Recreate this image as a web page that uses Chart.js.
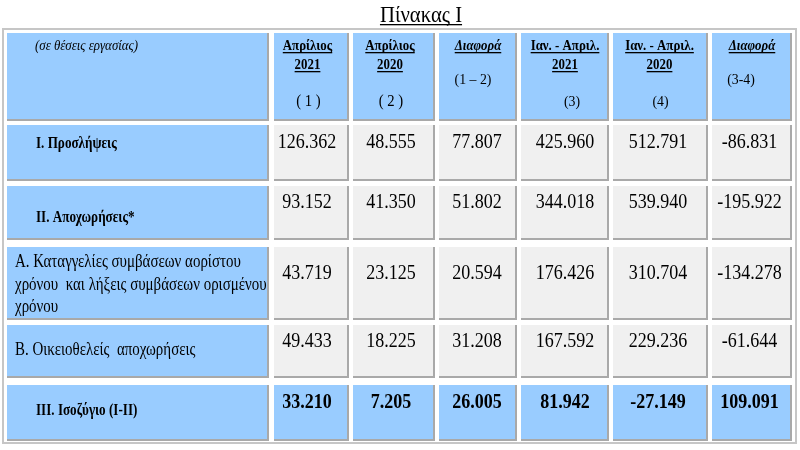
<!DOCTYPE html>
<html>
<head>
<meta charset="utf-8">
<script src="https://cdn.jsdelivr.net/npm/chart.js@4/dist/chart.umd.min.js"></script>
<style>
  html, body { margin: 0; padding: 0; background: #ffffff; }
  #wrap { width: 800px; height: 450px; position: relative; }
</style>
</head>
<body>
<div id="wrap"><canvas id="c"></canvas></div>
<script>
// ---------------- DATA ----------------
const tableTitle = 'Πίνακας Ι';
const unitLabel = '(σε θέσεις εργασίας)';
const columnHeads = [
  ['Απρίλιος', '2021'],
  ['Απρίλιος', '2020'],
  ['Διαφορά'],
  ['Ιαν. - Απριλ.', '2021'],
  ['Ιαν. - Απριλ.', '2020'],
  ['Διαφορά']
];
const columnNotes = ['( 1 )', '( 2 )', '(1 – 2)', '(3)', '(4)', '(3-4)'];
const rowLabels = [
  'Ι. Προσλήψεις',
  'ΙΙ. Αποχωρήσεις*',
  'Α. Καταγγελίες συμβάσεων αορίστου\nχρόνου  και λήξεις συμβάσεων ορισμένου\nχρόνου',
  'Β. Οικειοθελείς  αποχωρήσεις',
  'ΙΙΙ. Ισοζύγιο (Ι-ΙΙ)'
];
const april2021   = [126362, 93152, 43719, 49433, 33210];
const april2020   = [48555, 41350, 23125, 18225, 7205];
const diff1_2     = [77807, 51802, 20594, 31208, 26005];
const janApr2021  = [425960, 344018, 176426, 167592, 81942];
const janApr2020  = [512791, 539940, 310704, 229236, -27149];
const diff3_4     = [-86831, -195922, -134278, -61644, 109091];
const valueColumns = [april2021, april2020, diff1_2, janApr2021, janApr2020, diff3_4];

// ---------------- LAYOUT / STYLE ----------------
const colEdges = [[7, 269], [274, 349], [353, 435], [439, 517], [521, 609], [613, 708], [712, 792]];
const rowEdges = [[33, 121], [125, 181], [186, 240], [247, 320], [325, 378], [385, 441]];
const frameEdges = { x: [2, 797], y: [28, 444] };
const BLUE = '#99ccff';
const GRAY = '#f0f0f0';
const SHADOW = '#a9a9a9';
const SERIF = '"Liberation Serif", "Times New Roman", serif';

function fmt(v) {
  const s = String(Math.abs(v)).replace(/\B(?=(\d{3})+(?!\d))/g, '.');
  return (v < 0 ? '-' : '') + s;
}

const cellDatasets = colEdges.map((ce, c) => ({
  data: rowEdges.map(re => ({ x: (ce[0] + ce[1]) / 2, y: [re[0], re[1]] })),
  barThickness: ce[1] - ce[0],
  backgroundColor: rowEdges.map((_, r) => (r === 0 || c === 0 || r === rowEdges.length - 1) ? BLUE : GRAY),
  borderColor: SHADOW,
  borderWidth: { top: 0, left: 0, right: 2, bottom: 2 },
  borderSkipped: false,
  inflateAmount: 0,
  stack: 'table',
  order: 0
}));

const frameDataset = {
  data: [{ x: (frameEdges.x[0] + frameEdges.x[1]) / 2, y: frameEdges.y }],
  barThickness: frameEdges.x[1] - frameEdges.x[0],
  backgroundColor: '#ffffff',
  borderColor: '#c6c6c6',
  borderWidth: { top: 2, left: 2, right: 2, bottom: 2 },
  borderSkipped: false,
  inflateAmount: 0,
  stack: 'table',
  order: 5
};

function drawText(ctx, s, x, y, font, align, sx, underline) {
  ctx.save();
  ctx.font = font;
  ctx.fillStyle = '#000000';
  ctx.textBaseline = 'alphabetic';
  ctx.textAlign = align;
  ctx.translate(x, y);
  ctx.scale(sx, 1);
  ctx.fillText(s, 0, 0);
  if (underline) {
    const w = ctx.measureText(s).width;
    let x0 = 0;
    if (align === 'center') x0 = -w / 2;
    else if (align === 'right') x0 = -w;
    ctx.fillRect(x0, 2, w, 1.3);
  }
  ctx.restore();
}

function cellBox(chart, c, r) {
  const el = chart.getDatasetMeta(c).data[r];
  const p = el.getProps(['x', 'y', 'base', 'width'], true);
  return {
    left: p.x - p.width / 2, right: p.x + p.width / 2,
    top: Math.min(p.y, p.base), bottom: Math.max(p.y, p.base),
    cx: p.x, cy: (p.y + p.base) / 2
  };
}

const textPlugin = {
  id: 'tableText',
  afterDatasetsDraw(chart) {
    const ctx = chart.ctx;
    // title
    drawText(ctx, tableTitle, 421, 22, '23px ' + SERIF, 'center', 0.9, true);

    // header: unit label
    const h0 = cellBox(chart, 0, 0);
    drawText(ctx, unitLabel, h0.left + 28, h0.top + 17, 'italic 14px ' + SERIF, 'left', 0.92, false);

    // header columns
    const headStyle = ['bold 14px ', 'bold 14px ', 'bold italic 14px ', 'bold 14px ', 'bold 14px ', 'bold italic 14px '];
    const noteDy = [73, 73, 51, 73, 73, 51];
    const noteDx = [-3, -3, -5, 7, 0, -11];
    const headDx = [-4, -4, 0, 0, -1, 0];
    const noteSize = [16, 16, 15, 15, 15, 15];
    for (let c = 0; c < columnHeads.length; c++) {
      const b = cellBox(chart, c + 1, 0);
      columnHeads[c].forEach((line, i) => {
        drawText(ctx, line, b.cx + headDx[c], b.top + 17 + i * 19, headStyle[c] + SERIF, 'center', 0.92, true);
      });
      drawText(ctx, columnNotes[c], b.cx + noteDx[c], b.top + noteDy[c], noteSize[c] + 'px ' + SERIF, 'center', 0.92, false);
    }

    // row labels
    const labelBold = [true, true, false, false, true];
    const labelX = [36, 36, 15, 15, 36];
    const labelDy = [-5, 9, 0, 3.5, 2];
    for (let r = 0; r < rowLabels.length; r++) {
      const b = cellBox(chart, 0, r + 1);
      const lines = rowLabels[r].split('\n');
      if (lines.length > 1) {
        lines.forEach((line, i) => {
          drawText(ctx, line, labelX[r], b.top + 20 + i * 22.5, '18px ' + SERIF, 'left', 0.83, false);
        });
      } else {
        const font = labelBold[r] ? 'bold 16px ' : '18px ';
        const sx = labelBold[r] ? 0.82 : 0.83;
        drawText(ctx, lines[0], labelX[r], b.cy + labelDy[r], font + SERIF, 'left', sx, false);
      }
    }

    // values
    const valDx = [-4.5, -3, -1, 0, -2.5, -2.5];
    for (let c = 0; c < valueColumns.length; c++) {
      for (let r = 0; r < rowLabels.length; r++) {
        const b = cellBox(chart, c + 1, r + 1);
        const bold = r === rowLabels.length - 1;
        const dy = (r === 2) ? -4.5 : -5;
        drawText(ctx, fmt(valueColumns[c][r]), b.cx + valDx[c], b.cy + dy,
          (bold ? 'bold 20px ' : '20px ') + SERIF, 'center', 0.9, false);
      }
    }
  }
};

new Chart(document.getElementById('c'), {
  type: 'bar',
  data: { datasets: [...cellDatasets, frameDataset] },
  options: {
    responsive: true,
    maintainAspectRatio: false,
    animation: false,
    devicePixelRatio: 1,
    layout: { padding: 0 },
    scales: {
      x: { type: 'linear', min: 0, max: 800, display: false, offset: false },
      y: { type: 'linear', min: 0, max: 450, reverse: true, display: false }
    },
    plugins: {
      legend: { display: false },
      tooltip: { enabled: false },
      title: { display: false }
    }
  },
  plugins: [textPlugin]
});
</script>
</body>
</html>
